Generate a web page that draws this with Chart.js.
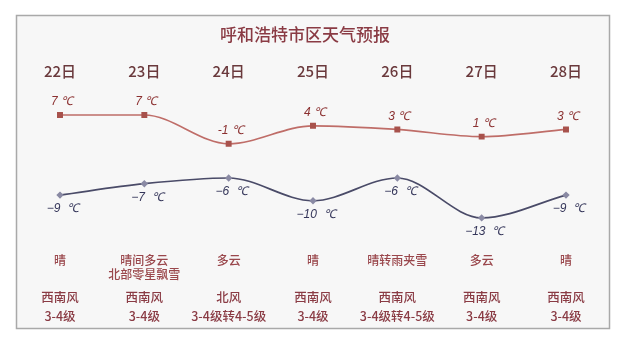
<!DOCTYPE html>
<html><head><meta charset="utf-8">
<script src="https://cdn.jsdelivr.net/npm/chart.js@4/dist/chart.umd.min.js"></script>
<style>html,body{margin:0;padding:0;background:#fff}#wrap{width:640px;height:355px}</style>
</head><body><div id="wrap"><canvas id="c" width="640" height="355"></canvas></div>
<script>
const title = '呼和浩特市区天气预报';
const dates = ['22日','23日','24日','25日','26日','27日','28日'];
const highs = [7, 7, -1, 4, 3, 1, 3];
const lows = [-9, -7, -6, -10, -6, -13, -9];
const weather = [['晴'],['晴间多云','北部零星飘雪'],['多云'],['晴'],['晴转雨夹雪'],['多云'],['晴']];
const windDir = ['西南风','西南风','北风','西南风','西南风','西南风','西南风'];
const windLevel = ['3-4级','3-4级','3-4级转4-5级','3-4级','3-4级转4-5级','3-4级','3-4级'];

const FONT = '"Noto Sans CJK SC", "Noto Sans", sans-serif';

const deco = {
  id: 'deco',
  beforeDraw(chart) {
    const ctx = chart.ctx;
    ctx.save();
    ctx.fillStyle = '#ffffff';
    ctx.fillRect(0, 0, chart.width, chart.height);
    ctx.fillStyle = '#f7f7f7';
    ctx.fillRect(16, 15, 594, 314);
    ctx.strokeStyle = '#a9a9a9';
    ctx.lineWidth = 1.5;
    ctx.strokeRect(16.5, 15.5, 593, 313);
    ctx.restore();
  },
  afterDatasetsDraw(chart) {
    const ctx = chart.ctx;
    const xs = chart.scales.x;
    ctx.save();
    ctx.textAlign = 'center';
    ctx.textBaseline = 'middle';
    ctx.fillStyle = '#8a3b44';
    ctx.font = '500 17px ' + FONT;
    ctx.fillText(title, 305, 35);
    dates.forEach((d, i) => {
      const x = xs.getPixelForValue(i);
      ctx.fillStyle = '#6a393c';
      ctx.font = '500 15px ' + FONT;
      ctx.fillText(d, x, 71);
      ctx.fillStyle = '#9a474c';
      ctx.font = '500 12px ' + FONT;
      weather[i].forEach((w, j) => ctx.fillText(w, x, 260 + j * 14));
      ctx.fillStyle = '#8a3b44';
      ctx.font = '500 12.5px ' + FONT;
      ctx.fillText(windDir[i], x, 297);
      ctx.fillText(windLevel[i], x, 316);
    });
    const mh = chart.getDatasetMeta(0), ml = chart.getDatasetMeta(1);
    ctx.font = 'italic 12px "Liberation Sans", sans-serif';
    mh.data.forEach((p, i) => {
      ctx.fillStyle = '#8b3030';
      ctx.fillText(highs[i] + ' ℃', p.x + 2, p.y - 13);
    });
    ml.data.forEach((p, i) => {
      ctx.fillStyle = '#35365a';
      ctx.fillText('\u2212' + Math.abs(lows[i]) + '  ℃', p.x + 3, p.y + 14);
    });
    ctx.restore();
  }
};

new Chart(document.getElementById('c'), {
  type: 'line',
  data: {
    labels: dates,
    datasets: [
      { data: highs, yAxisID: 'yh', borderColor: '#bf6d68', borderWidth: 1.7,
        pointStyle: 'rect', pointRadius: 3, pointBackgroundColor: '#a8524c', pointBorderColor: '#a8524c',
        cubicInterpolationMode: 'monotone' },
      { data: lows, yAxisID: 'yl', borderColor: '#4a4b68', borderWidth: 1.7,
        pointStyle: 'rectRot', pointRadius: 2.5, pointBackgroundColor: '#8a8aa4', pointBorderColor: '#8a8aa4',
        cubicInterpolationMode: 'monotone' }
    ]
  },
  options: {
    responsive: false,
    animation: false,
    devicePixelRatio: 1,
    layout: { padding: { left: 60, right: 74, top: 100, bottom: 115 } },
    plugins: { legend: { display: false }, tooltip: { enabled: false } },
    scales: {
      x: { display: false, offset: false },
      yh: { display: false, min: -27.72, max: 11.17 },
      yl: { display: false, min: -16.88, max: 7.68 }
    }
  },
  plugins: [deco]
});
</script>
</body></html>
